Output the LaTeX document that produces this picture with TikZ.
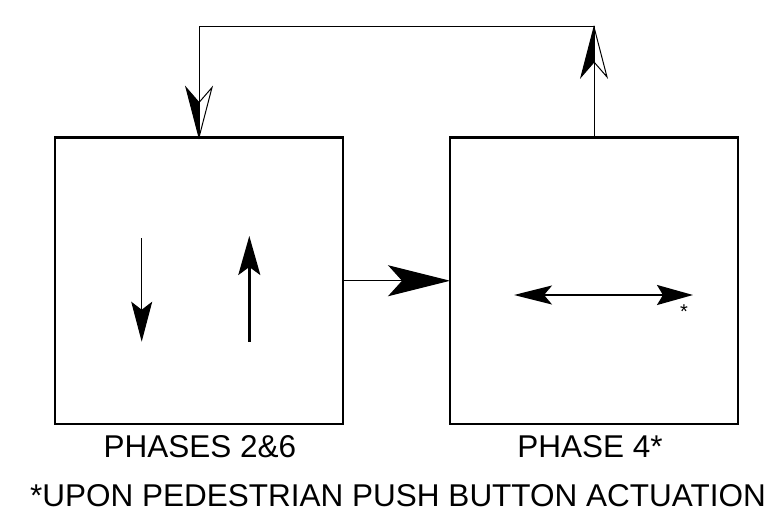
\documentclass[tikz,border=0pt]{standalone}
\usepackage{fontspec}
\setmainfont{Liberation Sans}
\usetikzlibrary{arrows.meta}
\begin{document}
\begin{tikzpicture}[x=1pt,y=-1pt,
  phasebox/.style={draw, line width=2.5pt, minimum width=288pt, minimum height=286.5pt, outer sep=0pt, inner sep=0pt},
  thinline/.style={line width=1pt},
  lbl/.style={anchor=base, inner sep=0pt, font=\fontsize{31.5}{36}\selectfont},
  halfhead/.pic={
    \fill (0,0) -- (-13,50) -- (0,35) -- cycle;
    \draw[line width=1pt, line join=miter] (0,0) -- (-13,50) -- (0,35) -- (13,50) -- cycle;
  }]
\useasboundingbox (0,0) rectangle (775,513);
% boxes
\node[phasebox] (b1) at (199,280.75) {};
\node[phasebox] (b2) at (594,280.75) {};
% labels
\node[lbl] (l1) at (200,457) {PHASES 2\&6};
\node[lbl] (l2) at (590,457) {PHASE 4*};
\node[anchor=base west, inner sep=0pt, font=\fontsize{31.5}{38}\selectfont] (note) at (30,506) {*UPON PEDESTRIAN PUSH BUTTON ACTUATION};
% middle connector
\draw[thinline, -{Stealth[length=62pt,width=31pt,inset=14pt]}] (b1.east) -- (b2.west);
% top connector
\coordinate (tl) at (199,27);
\draw[thinline] (b2.north) |- (tl) -- (b1.north);
\pic at (b2.north |- tl) {halfhead};
\pic[yscale=-1] at (b1.north) {halfhead};
% arrows in left box
\coordinate (d1) at (141.7,238);
\coordinate (d2) at (141.7,341.7);
\draw[line width=1pt, -{Stealth[length=40pt,width=21pt,inset=8pt]}] (d1) -- (d2);
\coordinate (u1) at (249.3,341.7);
\coordinate (u2) at (249.3,236);
\draw[line width=2.5pt, -{Stealth[length=39pt,width=22pt,inset=8pt]}] (u1) -- (u2);
% double arrow in right box
\coordinate (h1) at (514,295);
\coordinate (h2) at (693,295);
\draw[line width=2pt, {Stealth[length=38pt,width=19pt,inset=8pt]}-{Stealth[length=36pt,width=20pt,inset=6pt]}] (h1) -- (h2);
\node[inner sep=0pt, font=\fontsize{20}{24}\selectfont] (star) at (684,312) {*};
\end{tikzpicture}
\end{document}
